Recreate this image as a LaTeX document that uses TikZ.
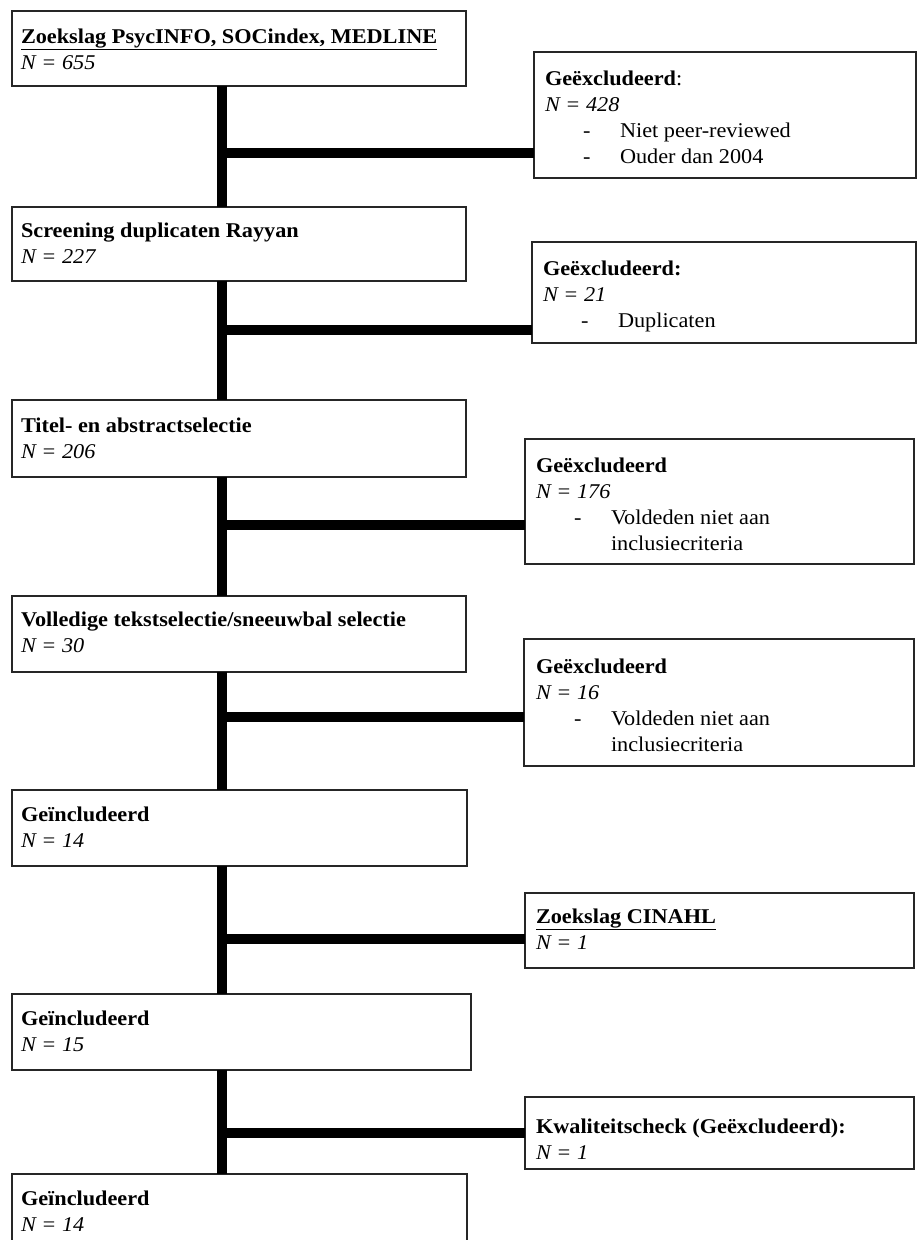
\documentclass[tikz,border=0pt]{standalone}
\usepackage{fontspec}
\setmainfont{Liberation Serif}[FakeStretch=1.06]
\usetikzlibrary{calc}
\begin{document}
\begin{tikzpicture}[x=1pt,y=-1pt,
  box/.style={draw=black!85, line width=1.8pt, fill=white, anchor=north west, inner sep=0pt, outer sep=0pt},
  txt/.style={anchor=base west, inner sep=0pt, outer sep=0pt, font=\fontsize{21}{26}\selectfont},
  conn/.style={line width=10pt, line cap=butt, black}]
\clip (0,0) rectangle (919,1240);
\fill[white] (0,0) rectangle (919,1240);
\newcommand{\rows}[1]{\begin{tabular}[t]{@{}l@{}}#1\end{tabular}}
\newcommand{\itm}[1]{\hspace*{38pt}\makebox[37pt][l]{-}#1}
% left column boxes
\node[box, minimum width=454pt, minimum height=75pt] (b1) at (12,11) {};
\node[box, minimum width=454pt, minimum height=74pt] (b2) at (12,207) {};
\node[box, minimum width=454pt, minimum height=77pt] (b3) at (12,400) {};
\node[box, minimum width=454pt, minimum height=76pt] (b4) at (12,596) {};
\node[box, minimum width=455pt, minimum height=76pt] (b5) at (12,790) {};
\node[box, minimum width=459pt, minimum height=76pt] (b6) at (12,994) {};
\node[box, minimum width=455pt, minimum height=120pt] (b7) at (12,1174) {};
% right column boxes
\node[box, minimum width=382pt, minimum height=126pt] (r1) at (534,52) {};
\node[box, minimum width=384pt, minimum height=101pt] (r2) at (532,242) {};
\node[box, minimum width=389pt, minimum height=125pt] (r3) at (525,439) {};
\node[box, minimum width=390pt, minimum height=127pt] (r4) at (524,639) {};
\node[box, minimum width=389pt, minimum height=75pt] (r5) at (525,893) {};
\node[box, minimum width=389pt, minimum height=72pt] (r6) at (525,1097) {};
% texts left
\node[txt] (t1) at ($(b1.north west)+(9,32)$) {\rows{\textbf{\underline{Zoekslag PsycINFO, SOCindex, MEDLINE}}\\ \textit{N = 655}}};
\node[txt] (t2) at ($(b2.north west)+(9,30)$) {\rows{\textbf{Screening duplicaten Rayyan}\\ \textit{N = 227}}};
\node[txt] (t3) at ($(b3.north west)+(9,32)$) {\rows{\textbf{Titel- en abstractselectie}\\ \textit{N = 206}}};
\node[txt] (t4) at ($(b4.north west)+(9,30)$) {\rows{\textbf{Volledige tekstselectie/sneeuwbal selectie}\\ \textit{N = 30}}};
\node[txt] (t5) at ($(b5.north west)+(9,31)$) {\rows{\textbf{Geïncludeerd}\\ \textit{N = 14}}};
\node[txt] (t6) at ($(b6.north west)+(9,31)$) {\rows{\textbf{Geïncludeerd}\\ \textit{N = 15}}};
\node[txt] (t7) at ($(b7.north west)+(9,31)$) {\rows{\textbf{Geïncludeerd}\\ \textit{N = 14}}};
% texts right
\node[txt] (s1) at ($(r1.north west)+(11,33)$) {\rows{\textbf{Geëxcludeerd}:\\ \textit{N = 428}\\ \itm{Niet peer-reviewed}\\ \itm{Ouder dan 2004}}};
\node[txt] (s2) at ($(r2.north west)+(11,33)$) {\rows{\textbf{Geëxcludeerd:}\\ \textit{N = 21}\\ \itm{Duplicaten}}};
\node[txt] (s3) at ($(r3.north west)+(11,33)$) {\rows{\textbf{Geëxcludeerd}\\ \textit{N = 176}\\ \itm{Voldeden niet aan}\\ \hspace*{75pt}inclusiecriteria}};
\node[txt] (s4) at ($(r4.north west)+(12,34)$) {\rows{\textbf{Geëxcludeerd}\\ \textit{N = 16}\\ \itm{Voldeden niet aan}\\ \hspace*{75pt}inclusiecriteria}};
\node[txt] (s5) at ($(r5.north west)+(11,30)$) {\rows{\textbf{\underline{Zoekslag CINAHL}}\\ \textit{N = 1}}};
\node[txt] (s6) at ($(r6.north west)+(11,36)$) {\rows{\textbf{Kwaliteitscheck (Geëxcludeerd):}\\ \textit{N = 1}}};
% spine and junctions
\coordinate (sp) at (222,0);
\coordinate (j1) at (227,153);
\coordinate (j2) at (227,330);
\coordinate (j3) at (227,525);
\coordinate (j4) at (227,717);
\coordinate (j5) at (227,939);
\coordinate (j6) at (227,1133);
\draw[conn] (b1.south -| sp) -- (b2.north -| sp);
\draw[conn] (b2.south -| sp) -- (b3.north -| sp);
\draw[conn] (b3.south -| sp) -- (b4.north -| sp);
\draw[conn] (b4.south -| sp) -- (b5.north -| sp);
\draw[conn] (b5.south -| sp) -- (b6.north -| sp);
\draw[conn] (b6.south -| sp) -- (b7.north -| sp);
\draw[conn] (j1) -- (j1 -| r1.west);
\draw[conn] (j2) -- (j2 -| r2.west);
\draw[conn] (j3) -- (j3 -| r3.west);
\draw[conn] (j4) -- (j4 -| r4.west);
\draw[conn] (j5) -- (j5 -| r5.west);
\draw[conn] (j6) -- (j6 -| r6.west);
\end{tikzpicture}
\end{document}
